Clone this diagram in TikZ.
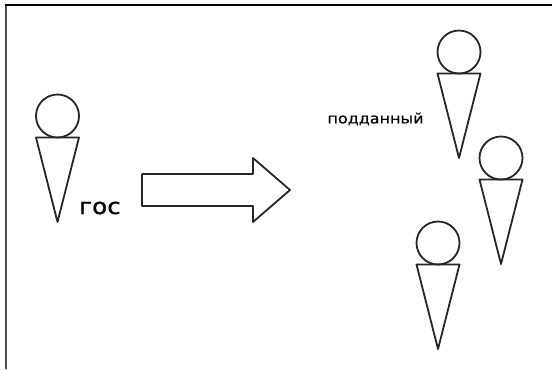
\documentclass[tikz,border=0pt]{standalone}
\usepackage{fontspec}
\newfontfamily\labelfont[FakeStretch=1.12,FakeBold=0.6]{DejaVu Sans}
\tikzset{
  x=0.75pt,y=-0.75pt,
  fig/.style={draw=black!85,line width=1.35pt,line join=round},
  lab/.style={inner sep=0pt,text=black},
  topline/.style={draw=black,line width=1.5pt},
  leftline/.style={draw=black!70,line width=1.7pt}
}
\newcommand{\person}[3]{%
  \node[fig,circle,minimum size=32.25pt,inner sep=0pt] (#3c) at (#1,#2) {};
  \draw[fig] (#1-21.5,#2+21.5) -- (#1+21.5,#2+21.5) -- (#1,#2+106) -- cycle;
}
\begin{document}
\begin{tikzpicture}
\useasboundingbox (0,0) rectangle (552,369);
\draw[leftline] (6,369) -- (6,4);
\draw[topline] (5,4.5) -- (552,4.5);
\person{57.5}{116}{a}
\person{459}{52}{b}
\person{501}{158}{d}
\person{438}{243}{e}
\draw[fig] (142,174) -- (253,174) -- (253,158) -- (290,190) -- (253,222) -- (253,206) -- (142,206) -- cycle;
\node[lab,font=\labelfont\fontsize{16.5}{18}\selectfont] (g) at (100,208) {гос};
\node[lab,font=\labelfont\fontsize{10.7}{12}\selectfont] (p) at (375.5,119) {подданный};
\end{tikzpicture}
\end{document}
